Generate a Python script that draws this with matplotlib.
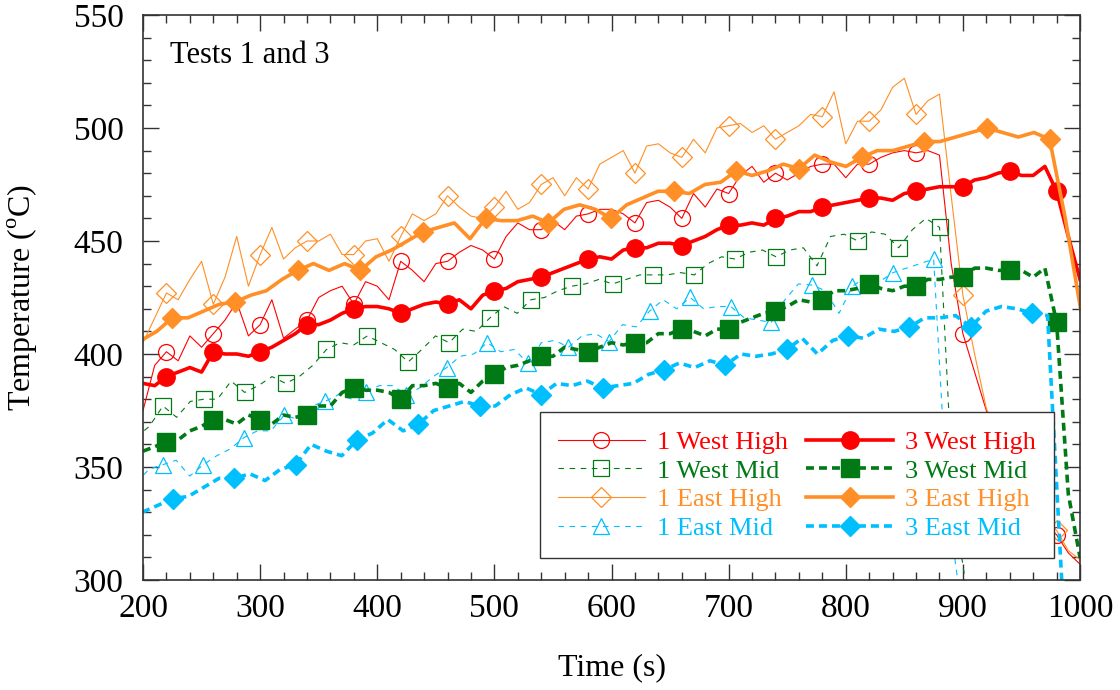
import numpy as np
import matplotlib
matplotlib.use('Agg')
import matplotlib.pyplot as plt

plt.rcParams['font.family'] = 'Liberation Serif'
plt.rcParams['mathtext.fontset'] = 'custom'
plt.rcParams['mathtext.rm'] = 'Liberation Serif'

# %%
# Data (temperature in degC)

# Test 1 high sensors, every 10 s
t_high1 = np.arange(200, 1001, 10)
west_high1 = [375, 395, 401, 397, 408, 403, 409, 415, 423, 408,
              413, 424, 407, 411, 415, 425, 428, 430, 422, 432,
              430, 424, 441, 437, 432, 440, 441, 445, 448, 446,
              442, 452, 458, 455, 455, 459, 455, 461, 462, 464,
              464, 462, 458, 467, 468, 465, 460, 471, 465, 473,
              471, 479, 483, 476, 480, 477, 480, 483, 484, 484,
              478, 484, 484, 487, 489, 490, 489, 490, 488, 440,
              409, 392, 375, 362, 350, 340, 332, 325, 320, 312, 307]
east_high1 = [405, 416, 427, 424, 433, 441, 422, 434, 452, 430,
              444, 456, 442, 447, 450, 450, 453, 444, 444, 450,
              451, 441, 452, 462, 459, 462, 470, 465, 461, 460,
              465, 472, 464, 467, 475, 478, 470, 478, 473, 484,
              487, 490, 480, 492, 493, 489, 487, 495, 489, 500,
              501, 502, 498, 501, 495, 498, 501, 506, 505, 516,
              493, 503, 503, 508, 518, 522, 506, 512, 515, 470,
              426, 400, 376, 363, 351, 341, 333, 327, 322, 313, 309]

# Test 1 mid sensors
t_wmid1 = 193.77 + 11.633 * np.arange(63)
west_mid1 = [363, 368, 377, 372, 379, 380, 380, 388, 383, 386,
             390, 387, 390, 395, 402, 405, 404, 408, 405, 402,
             396.5, 402, 408, 405, 411, 410, 416, 421, 418, 424,
             425, 428, 430, 431, 433, 431, 433, 435, 435, 435,
             436, 435, 440, 443, 442, 445, 446, 443, 446, 447,
             439, 452, 453, 450, 454, 453, 447, 455, 460, 456,
             335, 295, 280]
t_emid1 = 193.7 + 11.548 * np.arange(63)
east_mid1 = [343, 349, 351, 353, 346, 351, 355, 358, 363, 366,
             366, 373, 371, 377, 379, 382, 380, 383, 386, 386,
             382, 385, 390, 394, 399, 400, 405, 401, 402, 396,
             405, 406, 403, 408, 409, 405.5, 413, 412, 419, 424,
             420, 425, 420, 421, 421, 416, 415, 414, 424, 431,
             430.5, 428, 418, 430, 434, 432, 436, 438, 440, 442,
             335, 290, 280]

# Test 3 west sensors, every 10 s
t_west3 = np.arange(200, 1001, 10)
west_high3 = [387, 386, 390, 392, 394, 392, 401, 400, 400, 399,
              401, 403, 406, 409, 413, 413, 415, 418, 420, 421,
              421, 420, 418, 420, 422, 423, 422, 424, 420, 426,
              428, 429, 432, 433, 434, 436, 438, 440, 442, 443,
              442, 446, 447, 447, 449, 449, 448, 450, 452, 455,
              457, 457, 458, 457, 460, 461, 463, 463, 465, 466,
              467, 468, 469, 469, 468, 471, 472, 473, 474, 474,
              474, 477, 478, 480, 481, 479, 479, 483, 472, 452, 433]
west_mid3 = [357, 359, 361, 362, 366, 368, 371, 371, 369, 373,
             371, 369, 373, 372, 373, 377, 377, 383, 385, 384,
             384, 383, 380, 386, 386, 387, 385, 387, 383, 388,
             391, 394, 395, 397, 399, 399, 403, 402, 401, 403,
             405, 404, 405, 405, 409, 409, 411, 410, 408, 411,
             411, 414, 416, 418, 419, 421, 424, 423, 424, 428,
             428, 429, 431, 429, 428, 430, 430, 433, 433, 434,
             434, 438, 438, 437, 437, 437, 434, 438, 414, 338, 310]

# Test 3 east sensors
t_ehigh3 = 198.3 + 13.375 * np.arange(61)
east_high3 = [406, 410, 416, 416, 419, 422, 423, 426, 428, 433,
              437, 440, 437, 440, 437, 443, 446, 450, 454, 456,
              458, 451, 460, 459, 459, 461, 458, 464, 466, 464,
              460, 466, 469, 472, 472, 471, 475, 476, 481, 479,
              481, 484, 482, 488, 485, 483, 487, 490, 490, 492,
              494, 494, 496, 498, 500, 498, 496, 498, 495, 460, 419]
t_emid3 = 199.4 + 13.1 * np.arange(62)
east_mid3 = [330, 333, 336, 337, 341, 345, 345, 347, 344, 349,
             351, 360, 357, 355, 362, 365, 371, 366, 369, 375,
             377, 379, 377, 377, 382, 385, 382, 387, 386, 388,
             385, 386, 387, 391, 393, 396, 394, 397, 395, 400,
             399, 400, 402, 407, 400, 406, 408, 407, 411, 410,
             412, 416, 416, 417, 412, 419, 421, 420, 418, 417,
             290, 280]

# %%
red = '#FF0000'
green = '#007A14'
orange = '#FF8F26'
blue = '#00BFFF'

fig = plt.figure(figsize=(11.2, 6.9), dpi=100)
ax = fig.add_axes([0.1277, 0.1594, 0.8366, 0.8189])

thin = 0.8
thick = 2.6
ms1 = 11.5
ms3 = 12.5

ax.plot(t_high1, west_high1, color=red, lw=thin, marker='o', ms=ms1,
        mfc='none', mec=red, mew=0.9, markevery=(2, 4), label='1 West High')
ax.plot(t_wmid1, west_mid1, color=green, lw=thin, ls=(0, (5, 5)), marker='s', ms=ms1,
        mfc='none', mec=green, mew=0.9, markevery=(2, 3), label='1 West Mid')
ax.plot(t_high1, east_high1, color=orange, lw=thin, marker='D', ms=ms1 - 1.5,
        mfc='none', mec=orange, mew=0.9, markevery=(2, 4), label='1 East High')
ax.plot(t_emid1, east_mid1, color=blue, lw=thin, ls=(0, (5, 5)), marker='^', ms=ms1,
        mfc='none', mec=blue, mew=0.9, markevery=(2, 3), label='1 East Mid')

ax.plot(t_west3, west_high3, color=red, lw=thick, marker='o', ms=ms3,
        markevery=(2, 4), label='3 West High')
ax.plot(t_west3, west_mid3, color=green, lw=thick, ls=(0, (2.2, 1.4)), marker='s', ms=ms3,
        markevery=(2, 4), label='3 West Mid')
ax.plot(t_ehigh3, east_high3, color=orange, lw=thick, marker='D', ms=ms3 - 2.5,
        markevery=(2, 4), label='3 East High')
ax.plot(t_emid3, east_mid3, color=blue, lw=thick, ls=(0, (2.2, 1.4)), marker='D', ms=ms3 - 2.5,
        markevery=(2, 4), label='3 East Mid')

ax.set_xlim(200, 1000)
ax.set_ylim(300, 550)
ax.set_xticks(np.arange(200, 1001, 100))
ax.set_xticks(np.arange(200, 1001, 20), minor=True)
ax.set_yticks(np.arange(300, 551, 50))
ax.set_yticks(np.arange(300, 551, 10), minor=True)
ax.tick_params(which='both', direction='in', top=True, right=True, labelsize=24, color='#333333')
ax.tick_params(which='major', length=11.5, width=1.0)
ax.tick_params(which='minor', length=5.8, width=1.0)
ax.tick_params(axis='x', pad=10)
ax.tick_params(axis='y', pad=14)
for s in ax.spines.values():
    s.set_color('#333333')
    s.set_linewidth(1.2)

ax.set_xlabel('Time (s)', fontsize=23, labelpad=21)
ax.set_ylabel('Temperature ($^{\\rm o}$C)', fontsize=23, labelpad=24)
ax.text(0.029, 0.929, 'Tests 1 and 3', transform=ax.transAxes, fontsize=22, va='center')

leg = ax.legend(ncol=2, loc='lower right', bbox_to_anchor=(0.9723, 0.0389), borderaxespad=0,
                fontsize=19, numpoints=1, handlelength=3.3, handletextpad=0.45,
                columnspacing=0.7, labelspacing=0.2, borderpad=0.68, fancybox=False,
                framealpha=1, edgecolor='#333333')
leg.get_frame().set_linewidth(1.0)
for txt, line in zip(leg.get_texts(), leg.get_lines()):
    txt.set_color(line.get_color())

fig.savefig('out.png', dpi=100)
